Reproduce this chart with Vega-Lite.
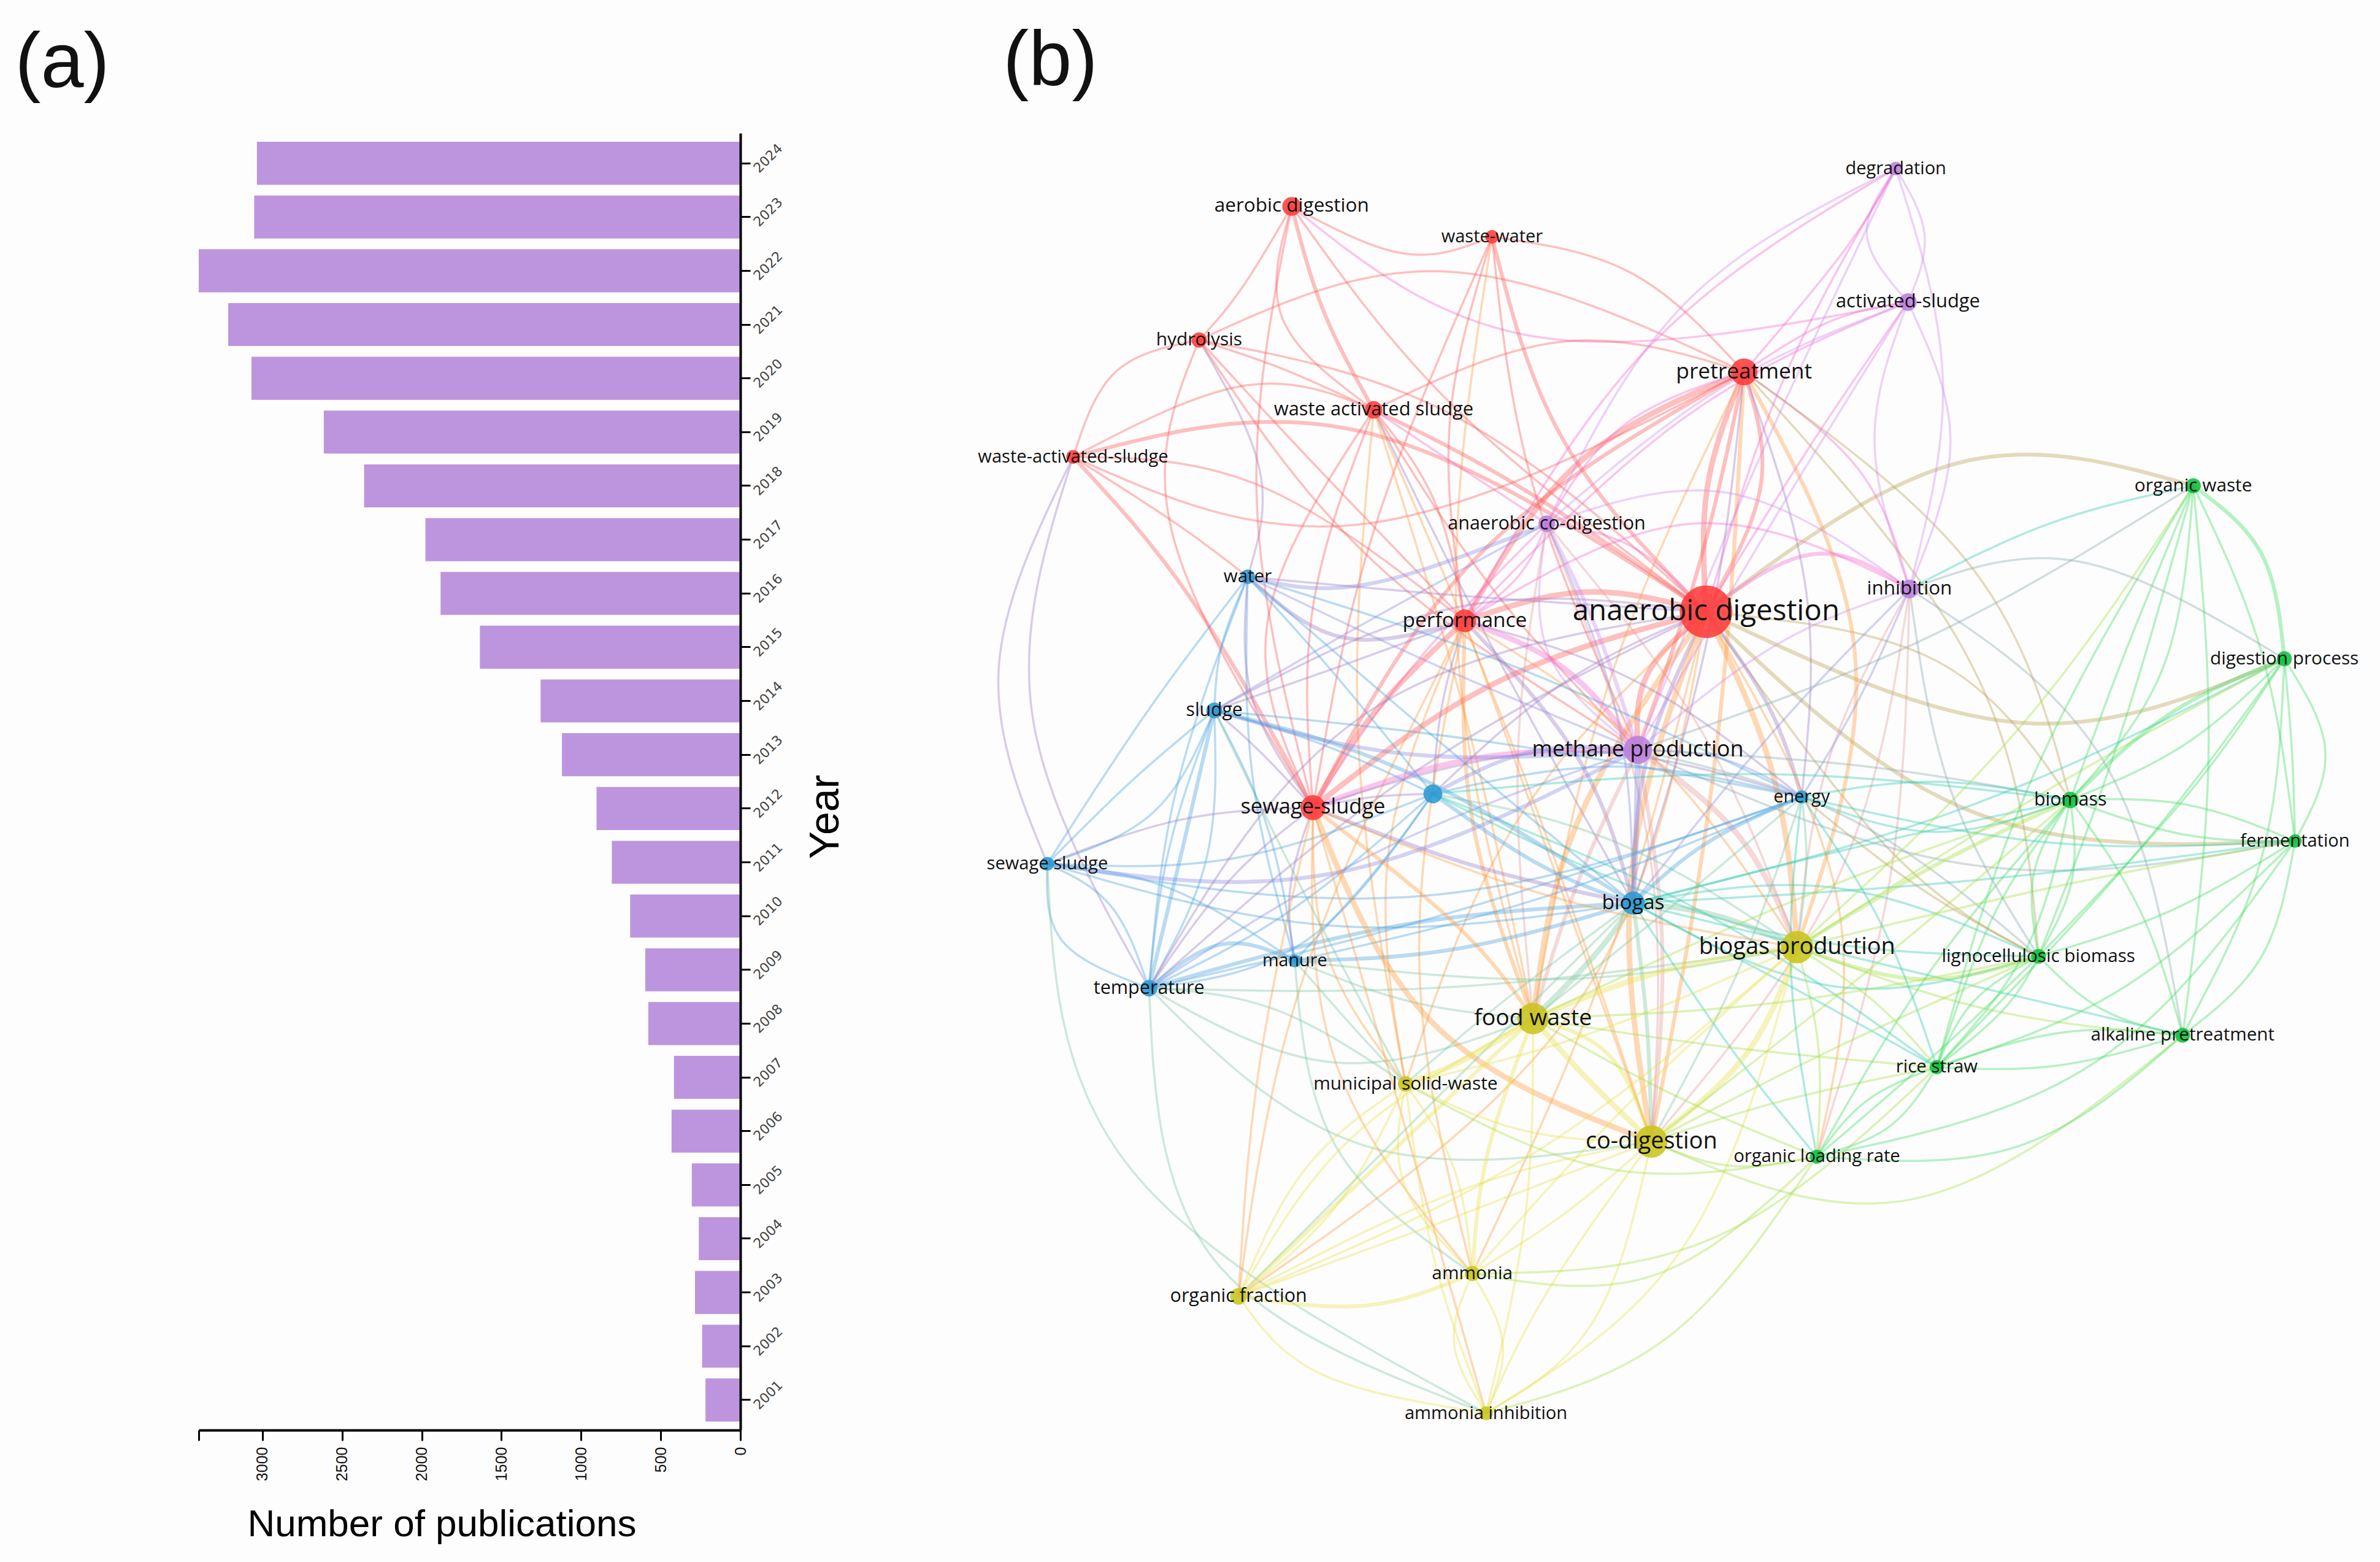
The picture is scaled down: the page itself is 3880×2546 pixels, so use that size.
{"$schema":"https://vega.github.io/schema/vega-lite/v6.json","width":3880,"height":2546,"padding":0,"autosize":{"type":"none"},"background":"#fdfdfd","config":{"view":{"stroke":null}},
"layer":[
{"data":{"values":[{"year":"2024","n":3035},{"year":"2023","n":3052},{"year":"2022","n":3400},{"year":"2021","n":3215},{"year":"2020","n":3069},{"year":"2019","n":2615},{"year":"2018","n":2362},{"year":"2017","n":1977},{"year":"2016","n":1882},{"year":"2015","n":1635},{"year":"2014","n":1254},{"year":"2013","n":1120},{"year":"2012","n":903},{"year":"2011","n":807},{"year":"2010","n":692},{"year":"2009","n":597},{"year":"2008","n":578},{"year":"2007","n":417},{"year":"2006","n":432},{"year":"2005","n":305},{"year":"2004","n":261},{"year":"2003","n":285},{"year":"2002","n":240},{"year":"2001","n":219}]},
"mark":{"type":"bar","color":"#bd95de"},
"encoding":{"x":{"field":"n","type":"quantitative","scale":{"domain":[0,3400],"range":[1207,324],"nice":false},"axis":{"orient":"bottom","offset":-215,"values":[0,500,1000,1500,2000,2500,3000,3400],"labelExpr":"datum.value==3400?'':datum.label","format":"d","grid":false,"domainColor":"#000","domainWidth":4,"tickColor":"#000","tickWidth":3,"tickSize":17,"labelAngle":-90,"labelFont":"Liberation Sans","labelFontSize":25,"labelColor":"#111","labelPadding":10,"title":"Number of publications","titleFont":"Liberation Sans","titleFontSize":62,"titleFontWeight":"normal","titleColor":"#000","titleX":720,"titleY":172,"titleAlign":"center","titleBaseline":"alphabetic","zindex":1}},
"y":{"field":"year","type":"ordinal","sort":"descending","scale":{"range":[217,2331],"paddingInner":0.2,"paddingOuter":0.16},"axis":{"orient":"right","offset":-2673,"grid":false,"domainColor":"#000","domainWidth":4,"tickColor":"#000","tickWidth":3,"tickSize":16,"labelAngle":-45,"labelAlign":"left","labelFont":"DejaVu Sans","labelFontSize":22,"labelColor":"#444","labelPadding":9,"labelOffset":12,"title":"Year","titleFont":"Liberation Sans","titleFontSize":68,"titleFontWeight":"normal","titleColor":"#000","titleAngle":-90,"titleX":139,"titleY":1331,"titleAlign":"center","titleBaseline":"middle","zindex":1}}}},
{"layer":[
{"data":{"values":[
{"id":"AEWW","g":"r","w":1,"xs":[851,925,983],"ys":[136,167,156]},
{"id":"AEHY","g":"r","w":1,"xs":[851,818,790],"ys":[136,190,224]},
{"id":"AEWS","g":"r","w":2,"xs":[851,872,905],"ys":[136,205,270]},
{"id":"AEWS2","g":"r","w":1,"xs":[851,845,905],"ys":[136,210,270]},
{"id":"AEAL","g":"rp","w":1,"xs":[851,1013,1257],"ys":[136,222,199]},
{"id":"AEAD","g":"r","w":1,"xs":[851,960,1124],"ys":[136,270,403]},
{"id":"AESS","g":"r","w":1,"xs":[851,828,865],"ys":[136,330,532]},
{"id":"WWPT","g":"r","w":1,"xs":[983,1075,1149],"ys":[156,180,245]},
{"id":"WWSS","g":"r","w":1,"xs":[983,905,865],"ys":[156,350,532]},
{"id":"WWPF","g":"r","w":1,"xs":[983,955,965],"ys":[156,280,409]},
{"id":"WWAD","g":"r","w":2,"xs":[983,1030,1124],"ys":[156,290,403]},
{"id":"WWMP","g":"r","w":1,"xs":[983,1010,1079],"ys":[156,320,494]},
{"id":"WWFW","g":"ry","w":1,"xs":[983,960,1010],"ys":[156,420,671]},
{"id":"HYPT","g":"r","w":1,"xs":[790,955,1149],"ys":[224,179,245]},
{"id":"HYWH","g":"r","w":1,"xs":[790,735,707],"ys":[224,245,301]},
{"id":"HYWS","g":"r","w":1,"xs":[790,845,905],"ys":[224,243,270]},
{"id":"HYAD","g":"r","w":1,"xs":[790,960,1124],"ys":[224,275,403]},
{"id":"HYPF","g":"r","w":1,"xs":[790,865,965],"ys":[224,305,409]},
{"id":"HYSS","g":"r","w":1,"xs":[790,772,865],"ys":[224,350,532]},
{"id":"HYWA","g":"rb","w":1,"xs":[790,830,822],"ys":[224,310,380]},
{"id":"HYMP","g":"r","w":1,"xs":[790,905,1079],"ys":[224,370,494]},
{"id":"WHWS","g":"r","w":1,"xs":[707,820,905],"ys":[301,254,270]},
{"id":"WHAD","g":"r","w":2,"xs":[707,900,1124],"ys":[301,285,403]},
{"id":"WHPF","g":"r","w":1,"xs":[707,830,965],"ys":[301,320,409]},
{"id":"WHPT","g":"r","w":1,"xs":[707,900,1149],"ys":[301,345,245]},
{"id":"WHSS","g":"r","w":2,"xs":[707,785,865],"ys":[301,395,532]},
{"id":"WHSW","g":"rb","w":1,"xs":[707,658,690],"ys":[301,440,569]},
{"id":"WHTE","g":"rb","w":1,"xs":[707,680,757],"ys":[301,470,651]},
{"id":"WSAD","g":"r","w":2,"xs":[905,1000,1124],"ys":[270,320,403]},
{"id":"WSPF","g":"r","w":1,"xs":[905,945,965],"ys":[270,330,409]},
{"id":"WSSS","g":"r","w":1,"xs":[905,865,865],"ys":[270,400,532]},
{"id":"WSSS2","g":"r","w":1,"xs":[905,835,865],"ys":[270,410,532]},
{"id":"WSPT","g":"r","w":1,"xs":[905,1030,1149],"ys":[270,225,245]},
{"id":"WSMP","g":"r","w":1,"xs":[905,985,1079],"ys":[270,390,494]},
{"id":"WSFW","g":"ry","w":1,"xs":[905,965,1010],"ys":[270,470,671]},
{"id":"WSAC","g":"rp","w":1,"xs":[905,965,1019],"ys":[270,310,345]},
{"id":"WSCD","g":"ry","w":1,"xs":[905,1000,1088],"ys":[270,500,752]},
{"id":"WSMS","g":"ry","w":1,"xs":[905,895,926],"ys":[270,490,714]},
{"id":"WSBG","g":"rb","w":1,"xs":[905,985,1076],"ys":[270,430,595]},
{"id":"ADPT","g":"r","w":3,"xs":[1124,1125,1149],"ys":[403,320,245]},
{"id":"ADPT2","g":"r","w":2,"xs":[1124,1160,1149],"ys":[403,320,245]},
{"id":"ADMP","g":"r","w":3,"xs":[1124,1085,1079],"ys":[403,445,494]},
{"id":"ADBP","g":"ry","w":3,"xs":[1124,1168,1184],"ys":[403,510,624]},
{"id":"ADBG","g":"rb","w":2,"xs":[1124,1085,1076],"ys":[403,500,595]},
{"id":"ADFW","g":"ry","w":3,"xs":[1124,1040,1010],"ys":[403,540,671]},
{"id":"ADCD","g":"ry","w":3,"xs":[1124,1075,1088],"ys":[403,575,752]},
{"id":"ADSS","g":"r","w":3,"xs":[1124,985,865],"ys":[403,450,532]},
{"id":"ADPF","g":"r","w":3,"xs":[1124,1045,965],"ys":[403,390,409]},
{"id":"ADOW","g":"rg","w":2,"xs":[1124,1290,1445],"ys":[403,305,320]},
{"id":"ADDP","g":"rg","w":2,"xs":[1124,1330,1505],"ys":[403,476,434]},
{"id":"ADFE","g":"rg","w":2,"xs":[1124,1300,1512],"ys":[403,535,554]},
{"id":"ADBM","g":"rg","w":1,"xs":[1124,1275,1364],"ys":[403,435,527]},
{"id":"ADIN","g":"rp","w":2,"xs":[1124,1195,1258],"ys":[403,365,388]},
{"id":"ADLB","g":"rg","w":1,"xs":[1124,1245,1343],"ys":[403,560,630]},
{"id":"ADEN","g":"rb","w":2,"xs":[1124,1165,1187],"ys":[403,465,525]},
{"id":"ADOL","g":"ry","w":1,"xs":[1124,1210,1197],"ys":[403,590,762]},
{"id":"ADMS","g":"ry","w":1,"xs":[1124,1000,926],"ys":[403,540,714]},
{"id":"ADOF","g":"ry","w":1,"xs":[1124,1040,816],"ys":[403,660,854]},
{"id":"ADTE","g":"rb","w":1,"xs":[1124,930,757],"ys":[403,510,651]},
{"id":"ADSL","g":"rb","w":1,"xs":[1124,960,800],"ys":[403,400,468]},
{"id":"ADAM","g":"ry","w":1,"xs":[1124,1060,970],"ys":[403,630,839]},
{"id":"PTIN","g":"rp","w":1,"xs":[1149,1225,1258],"ys":[245,310,388]},
{"id":"PTBM","g":"rg","w":1,"xs":[1149,1300,1364],"ys":[245,375,527]},
{"id":"PTBP","g":"ry","w":2,"xs":[1149,1222,1184],"ys":[245,430,624]},
{"id":"PTFW","g":"ry","w":1,"xs":[1149,1060,1010],"ys":[245,450,671]},
{"id":"PTCD","g":"ry","w":2,"xs":[1149,1130,1088],"ys":[245,500,752]},
{"id":"PTMP","g":"r","w":2,"xs":[1149,1120,1079],"ys":[245,370,494]},
{"id":"PTBG","g":"rb","w":1,"xs":[1149,1125,1076],"ys":[245,420,595]},
{"id":"PTEN","g":"rb","w":1,"xs":[1149,1190,1187],"ys":[245,390,525]},
{"id":"PTPF","g":"r","w":3,"xs":[1149,1040,965],"ys":[245,305,409]},
{"id":"PTSS","g":"r","w":2,"xs":[1149,975,865],"ys":[245,365,532]},
{"id":"PTAC","g":"rp","w":1,"xs":[1149,1070,1019],"ys":[245,280,345]},
{"id":"PTAL","g":"rp","w":1,"xs":[1149,1205,1257],"ys":[245,212,199]},
{"id":"PTDG","g":"rp","w":1,"xs":[1149,1215,1249],"ys":[245,165,111]},
{"id":"PTLB","g":"rg","w":1,"xs":[1149,1300,1343],"ys":[245,440,630]},
{"id":"DGAL","g":"p","w":1,"xs":[1249,1230,1257],"ys":[111,155,199]},
{"id":"DGAL2","g":"p","w":1,"xs":[1249,1268,1257],"ys":[111,155,199]},
{"id":"DGAC","g":"p","w":1,"xs":[1249,1110,1019],"ys":[111,200,345]},
{"id":"DGAD","g":"rp","w":1,"xs":[1249,1175,1124],"ys":[111,250,403]},
{"id":"DGMP","g":"p","w":1,"xs":[1249,1160,1079],"ys":[111,300,494]},
{"id":"DGIN","g":"p","w":1,"xs":[1249,1280,1258],"ys":[111,250,388]},
{"id":"DGPF","g":"rp","w":1,"xs":[1249,1085,965],"ys":[111,230,409]},
{"id":"ALIN","g":"p","w":1,"xs":[1257,1285,1258],"ys":[199,290,388]},
{"id":"ALIN2","g":"p","w":1,"xs":[1257,1235,1258],"ys":[199,290,388]},
{"id":"ALMP","g":"p","w":1,"xs":[1257,1170,1079],"ys":[199,340,494]},
{"id":"ALAD","g":"rp","w":1,"xs":[1257,1195,1124],"ys":[199,290,403]},
{"id":"ALAC","g":"p","w":1,"xs":[1257,1135,1019],"ys":[199,255,345]},
{"id":"ALPF","g":"rp","w":1,"xs":[1257,1110,965],"ys":[199,275,409]},
{"id":"ACAD","g":"rp","w":1,"xs":[1019,1075,1124],"ys":[345,360,403]},
{"id":"ACMP","g":"p","w":2,"xs":[1019,1052,1079],"ys":[345,415,494]},
{"id":"ACMP2","g":"p","w":1,"xs":[1019,1020,1079],"ys":[345,430,494]},
{"id":"ACPF","g":"rp","w":1,"xs":[1019,1000,965],"ys":[345,380,409]},
{"id":"ACIN","g":"p","w":1,"xs":[1019,1140,1258],"ys":[345,325,388]},
{"id":"ACWA","g":"pb","w":2,"xs":[1019,900,822],"ys":[345,385,380]},
{"id":"ACBG","g":"pb","w":1,"xs":[1019,1065,1076],"ys":[345,470,595]},
{"id":"ACFW","g":"py","w":1,"xs":[1019,1000,1010],"ys":[345,500,671]},
{"id":"ACBP","g":"py","w":1,"xs":[1019,1120,1184],"ys":[345,480,624]},
{"id":"ACCD","g":"py","w":1,"xs":[1019,1085,1088],"ys":[345,550,752]},
{"id":"ACSS","g":"rp","w":1,"xs":[1019,930,865],"ys":[345,440,532]},
{"id":"INMP","g":"p","w":1,"xs":[1258,1170,1079],"ys":[388,425,494]},
{"id":"INBP","g":"py","w":1,"xs":[1258,1205,1184],"ys":[388,500,624]},
{"id":"INBG","g":"pb","w":1,"xs":[1258,1170,1076],"ys":[388,480,595]},
{"id":"INEN","g":"pb","w":1,"xs":[1258,1225,1187],"ys":[388,460,525]},
{"id":"INPF","g":"rp","w":1,"xs":[1258,1115,965],"ys":[388,345,409]},
{"id":"INDP","g":"pg","w":1,"xs":[1258,1370,1505],"ys":[388,370,434]},
{"id":"INOL","g":"py","w":1,"xs":[1258,1245,1197],"ys":[388,580,762]},
{"id":"INAP","g":"pg","w":1,"xs":[1258,1385,1438],"ys":[388,500,682]},
{"id":"INLB","g":"pg","w":1,"xs":[1258,1285,1343],"ys":[388,520,630]},
{"id":"INCD","g":"py","w":1,"xs":[1258,1210,1088],"ys":[388,580,752]},
{"id":"INOW","g":"gb","w":1,"xs":[1258,1350,1445],"ys":[388,345,320]},
{"id":"PFMP","g":"rp","w":3,"xs":[965,1030,1079],"ys":[409,440,494]},
{"id":"PFSS","g":"r","w":3,"xs":[965,905,865],"ys":[409,470,532]},
{"id":"PFBG","g":"rb","w":2,"xs":[965,1040,1076],"ys":[409,500,595]},
{"id":"PFFW","g":"ry","w":2,"xs":[965,970,1010],"ys":[409,540,671]},
{"id":"PFCD","g":"ry","w":1,"xs":[965,1030,1088],"ys":[409,590,752]},
{"id":"PFBP","g":"ry","w":1,"xs":[965,1090,1184],"ys":[409,500,624]},
{"id":"PFWA","g":"rb","w":2,"xs":[965,885,822],"ys":[409,420,380]},
{"id":"PFUB","g":"rb","w":1,"xs":[965,950,944],"ys":[409,465,523]},
{"id":"PFSL","g":"rb","w":1,"xs":[965,880,800],"ys":[409,440,468]},
{"id":"PFOF","g":"ry","w":1,"xs":[965,860,816],"ys":[409,640,854]},
{"id":"PFMS","g":"ry","w":1,"xs":[965,915,926],"ys":[409,560,714]},
{"id":"PFAM","g":"ry","w":1,"xs":[965,935,970],"ys":[409,630,839]},
{"id":"PFEN","g":"rb","w":1,"xs":[965,1080,1187],"ys":[409,450,525]},
{"id":"MPBG","g":"pb","w":3,"xs":[1079,1078,1076],"ys":[494,545,595]},
{"id":"MPFW","g":"py","w":2,"xs":[1079,1040,1010],"ys":[494,580,671]},
{"id":"MPBP","g":"py","w":3,"xs":[1079,1145,1184],"ys":[494,550,624]},
{"id":"MPCD","g":"py","w":2,"xs":[1079,1095,1088],"ys":[494,620,752]},
{"id":"MPSS","g":"rp","w":3,"xs":[1079,970,865],"ys":[494,500,532]},
{"id":"MPUB","g":"pb","w":2,"xs":[1079,1010,944],"ys":[494,495,523]},
{"id":"MPSL","g":"pb","w":2,"xs":[1079,930,800],"ys":[494,497,468]},
{"id":"MPEN","g":"pb","w":1,"xs":[1079,1135,1187],"ys":[494,500,525]},
{"id":"MPBM","g":"pg","w":1,"xs":[1079,1230,1364],"ys":[494,505,527]},
{"id":"MPOW","g":"pg","w":1,"xs":[1079,1270,1445],"ys":[494,420,320]},
{"id":"MPWA","g":"pb","w":1,"xs":[1079,950,822],"ys":[494,440,380]},
{"id":"MPTE","g":"pb","w":1,"xs":[1079,910,757],"ys":[494,560,651]},
{"id":"MPLB","g":"pg","w":1,"xs":[1079,1220,1343],"ys":[494,540,630]},
{"id":"MPFE","g":"pg","w":1,"xs":[1079,1300,1512],"ys":[494,570,554]},
{"id":"UBBG","g":"b","w":2,"xs":[944,1015,1076],"ys":[523,570,595]},
{"id":"UBSL","g":"b","w":1,"xs":[944,870,800],"ys":[523,490,468]},
{"id":"UBWA","g":"b","w":1,"xs":[944,880,822],"ys":[523,445,380]},
{"id":"UBSS","g":"rb","w":1,"xs":[944,905,865],"ys":[523,525,532]},
{"id":"UBTE","g":"b","w":1,"xs":[944,850,757],"ys":[523,600,651]},
{"id":"UBTE2","g":"b","w":1,"xs":[944,860,757],"ys":[523,620,651]},
{"id":"UBMA","g":"b","w":1,"xs":[944,905,853],"ys":[523,575,633]},
{"id":"UBSW","g":"b","w":1,"xs":[944,815,690],"ys":[523,565,569]},
{"id":"UBEN","g":"b","w":1,"xs":[944,1065,1187],"ys":[523,505,525]},
{"id":"UBBP","g":"yb","w":1,"xs":[944,1065,1184],"ys":[523,555,624]},
{"id":"UBAD","g":"rb","w":1,"xs":[944,1030,1124],"ys":[523,450,403]},
{"id":"UBLB","g":"gb","w":1,"xs":[944,1150,1343],"ys":[523,610,630]},
{"id":"UBBM","g":"gb","w":1,"xs":[944,1160,1364],"ys":[523,510,527]},
{"id":"UBRS","g":"gb","w":1,"xs":[944,1120,1276],"ys":[523,600,703]},
{"id":"SLSS","g":"rb","w":1,"xs":[800,830,865],"ys":[468,495,532]},
{"id":"SLSW","g":"b","w":1,"xs":[800,745,690],"ys":[468,515,569]},
{"id":"SLTE","g":"b","w":1,"xs":[800,770,757],"ys":[468,560,651]},
{"id":"SLTE2","g":"b","w":1,"xs":[800,795,757],"ys":[468,565,651]},
{"id":"SLMA","g":"b","w":1,"xs":[800,835,853],"ys":[468,545,633]},
{"id":"SLBG","g":"b","w":2,"xs":[800,930,1076],"ys":[468,510,595]},
{"id":"SLEN","g":"b","w":1,"xs":[800,990,1187],"ys":[468,490,525]},
{"id":"SLWA","g":"b","w":1,"xs":[800,805,822],"ys":[468,425,380]},
{"id":"SLAC","g":"pb","w":1,"xs":[800,900,1019],"ys":[468,410,345]},
{"id":"SLMS","g":"yb","w":1,"xs":[800,860,926],"ys":[468,590,714]},
{"id":"SWSS","g":"rb","w":1,"xs":[690,778,865],"ys":[569,540,532]},
{"id":"SWTE","g":"b","w":1,"xs":[690,700,757],"ys":[569,620,651]},
{"id":"SWTE2","g":"b","w":1,"xs":[690,732,757],"ys":[569,597,651]},
{"id":"SWMA","g":"b","w":1,"xs":[690,770,853],"ys":[569,585,633]},
{"id":"SWBG","g":"b","w":1,"xs":[690,880,1076],"ys":[569,610,595]},
{"id":"SWMP","g":"pb","w":2,"xs":[690,880,1079],"ys":[569,575,494]},
{"id":"SWEN","g":"b","w":1,"xs":[690,940,1187],"ys":[569,590,525]},
{"id":"SWSL2","g":"b","w":1,"xs":[690,760,800],"ys":[569,535,468]},
{"id":"SWAI","g":"yb","w":1,"xs":[690,745,979],"ys":[569,770,931]},
{"id":"WAWH","g":"r","w":1,"xs":[822,775,707],"ys":[380,345,301]},
{"id":"TESS","g":"rb","w":1,"xs":[757,810,865],"ys":[651,580,532]},
{"id":"TESS2","g":"b","w":2,"xs":[757,780,800],"ys":[651,555,468]},
{"id":"TEMA","g":"b","w":2,"xs":[757,805,853],"ys":[651,622,633]},
{"id":"TEBG","g":"b","w":2,"xs":[757,920,1076],"ys":[651,610,595]},
{"id":"TEAD","g":"rb","w":1,"xs":[757,900,1124],"ys":[651,470,403]},
{"id":"TEEN","g":"b","w":1,"xs":[757,960,1187],"ys":[651,600,525]},
{"id":"TEAI","g":"yb","w":1,"xs":[757,800,979],"ys":[651,830,931]},
{"id":"TECD","g":"yb","w":1,"xs":[757,900,1088],"ys":[651,755,752]},
{"id":"TEFW","g":"yb","w":1,"xs":[757,880,1010],"ys":[651,700,671]},
{"id":"TEMS","g":"yb","w":1,"xs":[757,840,926],"ys":[651,665,714]},
{"id":"TEBP","g":"yb","w":1,"xs":[757,960,1184],"ys":[651,650,624]},
{"id":"MABG","g":"b","w":2,"xs":[853,960,1076],"ys":[633,625,595]},
{"id":"MASS","g":"rb","w":1,"xs":[853,850,865],"ys":[633,585,532]},
{"id":"MAMS","g":"yb","w":1,"xs":[853,890,926],"ys":[633,675,714]},
{"id":"MAAM","g":"yb","w":1,"xs":[853,880,970],"ys":[633,755,839]},
{"id":"MAFW","g":"yb","w":1,"xs":[853,930,1010],"ys":[633,660,671]},
{"id":"MABP","g":"yb","w":1,"xs":[853,1030,1184],"ys":[633,645,624]},
{"id":"MAEN","g":"b","w":1,"xs":[853,1020,1187],"ys":[633,590,525]},
{"id":"MAWA","g":"b","w":1,"xs":[853,825,822],"ys":[633,510,380]},
{"id":"WATE","g":"b","w":1,"xs":[822,775,757],"ys":[380,520,651]},
{"id":"WASW","g":"b","w":1,"xs":[822,755,690],"ys":[380,470,569]},
{"id":"WASS","g":"rb","w":1,"xs":[822,825,865],"ys":[380,460,532]},
{"id":"WABG","g":"b","w":1,"xs":[822,950,1076],"ys":[380,490,595]},
{"id":"WAEN","g":"b","w":1,"xs":[822,1000,1187],"ys":[380,440,525]},
{"id":"WAAD","g":"rb","w":1,"xs":[822,970,1124],"ys":[380,393,403]},
{"id":"SSBG","g":"rb","w":2,"xs":[865,970,1076],"ys":[532,570,595]},
{"id":"SSFW","g":"ry","w":2,"xs":[865,960,1010],"ys":[532,610,671]},
{"id":"SSCD","g":"ry","w":3,"xs":[865,945,1088],"ys":[532,675,752]},
{"id":"SSBP","g":"ry","w":1,"xs":[865,1020,1184],"ys":[532,590,624]},
{"id":"SSMS","g":"ry","w":1,"xs":[865,875,926],"ys":[532,630,714]},
{"id":"SSOF","g":"ry","w":1,"xs":[865,830,816],"ys":[532,700,854]},
{"id":"SSAM","g":"ry","w":1,"xs":[865,880,970],"ys":[532,700,839]},
{"id":"SSAI","g":"ry","w":1,"xs":[865,925,979],"ys":[532,740,931]},
{"id":"SSEN","g":"rb","w":1,"xs":[865,1030,1187],"ys":[532,495,525]},
{"id":"BGFW","g":"yb","w":3,"xs":[1076,1050,1010],"ys":[595,630,671]},
{"id":"BGBP","g":"yb","w":3,"xs":[1076,1130,1184],"ys":[595,603,624]},
{"id":"BGCD","g":"yb","w":2,"xs":[1076,1085,1088],"ys":[595,675,752]},
{"id":"BGEN","g":"b","w":2,"xs":[1076,1125,1187],"ys":[595,555,525]},
{"id":"BGBM","g":"gb","w":1,"xs":[1076,1215,1364],"ys":[595,560,527]},
{"id":"BGLB","g":"gb","w":1,"xs":[1076,1210,1343],"ys":[595,585,630]},
{"id":"BGLB2","g":"gb","w":1,"xs":[1076,1210,1343],"ys":[595,650,630]},
{"id":"BGRS","g":"gb","w":1,"xs":[1076,1180,1276],"ys":[595,650,703]},
{"id":"BGOL","g":"gb","w":1,"xs":[1076,1140,1197],"ys":[595,690,762]},
{"id":"BGFE","g":"gb","w":1,"xs":[1076,1300,1512],"ys":[595,580,554]},
{"id":"BGMS","g":"yb","w":1,"xs":[1076,990,926],"ys":[595,660,714]},
{"id":"BGOF","g":"yb","w":1,"xs":[1076,950,816],"ys":[595,720,854]},
{"id":"BGAP","g":"gb","w":1,"xs":[1076,1260,1438],"ys":[595,640,682]},
{"id":"BGDP","g":"gb","w":1,"xs":[1076,1300,1505],"ys":[595,530,434]},
{"id":"BPFW","g":"y","w":3,"xs":[1184,1095,1010],"ys":[624,640,671]},
{"id":"BPCD","g":"y","w":3,"xs":[1184,1150,1088],"ys":[624,695,752]},
{"id":"BPLB","g":"yg","w":2,"xs":[1184,1265,1343],"ys":[624,645,630]},
{"id":"BPRS","g":"yg","w":1,"xs":[1184,1235,1276],"ys":[624,660,703]},
{"id":"BPOL","g":"yg","w":1,"xs":[1184,1198,1197],"ys":[624,690,762]},
{"id":"BPBM","g":"yg","w":2,"xs":[1184,1275,1364],"ys":[624,570,527]},
{"id":"BPAP","g":"yg","w":1,"xs":[1184,1310,1438],"ys":[624,665,682]},
{"id":"BPFE","g":"yg","w":1,"xs":[1184,1350,1512],"ys":[624,585,554]},
{"id":"BPDP","g":"yg","w":1,"xs":[1184,1350,1505],"ys":[624,520,434]},
{"id":"BPMS","g":"y","w":1,"xs":[1184,1050,926],"ys":[624,680,714]},
{"id":"BPOF","g":"y","w":1,"xs":[1184,1010,816],"ys":[624,760,854]},
{"id":"BPEN","g":"yb","w":1,"xs":[1184,1190,1187],"ys":[624,570,525]},
{"id":"BPAM","g":"y","w":1,"xs":[1184,1070,970],"ys":[624,730,839]},
{"id":"BPOW","g":"yg","w":1,"xs":[1184,1330,1445],"ys":[624,480,320]},
{"id":"BPAI","g":"y","w":1,"xs":[1184,1110,979],"ys":[624,820,931]},
{"id":"CDFW","g":"y","w":3,"xs":[1088,1045,1010],"ys":[752,710,671]},
{"id":"CDFW2","g":"y","w":2,"xs":[1088,1060,1010],"ys":[752,695,671]},
{"id":"CDMS","g":"y","w":1,"xs":[1088,1005,926],"ys":[752,745,714]},
{"id":"CDOF","g":"y","w":1,"xs":[1088,950,816],"ys":[752,805,854]},
{"id":"CDAM","g":"y","w":1,"xs":[1088,1030,970],"ys":[752,800,839]},
{"id":"CDAI","g":"y","w":1,"xs":[1088,1020,979],"ys":[752,850,931]},
{"id":"CDAI2","g":"y","w":1,"xs":[1088,1050,979],"ys":[752,870,931]},
{"id":"CDOL","g":"yg","w":1,"xs":[1088,1140,1197],"ys":[752,768,762]},
{"id":"CDRS","g":"yg","w":1,"xs":[1088,1175,1276],"ys":[752,725,703]},
{"id":"CDLB","g":"yg","w":1,"xs":[1088,1210,1343],"ys":[752,690,630]},
{"id":"CDBM","g":"yg","w":1,"xs":[1088,1230,1364],"ys":[752,640,527]},
{"id":"CDAP","g":"yg","w":1,"xs":[1088,1260,1438],"ys":[752,790,682]},
{"id":"CDEN","g":"yb","w":1,"xs":[1088,1145,1187],"ys":[752,640,525]},
{"id":"FWMS","g":"y","w":3,"xs":[1010,965,926],"ys":[671,698,714]},
{"id":"FWOF","g":"y","w":2,"xs":[1010,905,816],"ys":[671,770,854]},
{"id":"FWOF2","g":"y","w":1,"xs":[1010,890,816],"ys":[671,750,854]},
{"id":"FWAM","g":"y","w":2,"xs":[1010,980,970],"ys":[671,760,839]},
{"id":"FWAI","g":"y","w":1,"xs":[1010,1005,979],"ys":[671,800,931]},
{"id":"FWEN","g":"yb","w":1,"xs":[1010,1110,1187],"ys":[671,590,525]},
{"id":"FWLB","g":"yg","w":1,"xs":[1010,1175,1343],"ys":[671,660,630]},
{"id":"FWRS","g":"yg","w":1,"xs":[1010,1140,1276],"ys":[671,690,703]},
{"id":"FWBM","g":"yg","w":1,"xs":[1010,1190,1364],"ys":[671,590,527]},
{"id":"FWOL","g":"yg","w":1,"xs":[1010,1100,1197],"ys":[671,720,762]},
{"id":"MSOF","g":"y","w":1,"xs":[926,860,816],"ys":[714,770,854]},
{"id":"MSOF2","g":"y","w":1,"xs":[926,880,816],"ys":[714,795,854]},
{"id":"MSAM","g":"y","w":1,"xs":[926,925,970],"ys":[714,780,839]},
{"id":"MSAM2","g":"y","w":1,"xs":[926,958,970],"ys":[714,770,839]},
{"id":"MSAI","g":"y","w":1,"xs":[926,945,979],"ys":[714,830,931]},
{"id":"MSOL","g":"yg","w":1,"xs":[926,1060,1197],"ys":[714,770,762]},
{"id":"OFAM","g":"y","w":2,"xs":[816,900,970],"ys":[854,860,839]},
{"id":"OFAI","g":"y","w":1,"xs":[816,870,979],"ys":[854,905,931]},
{"id":"OFCD2","g":"y","w":1,"xs":[816,960,1088],"ys":[854,785,752]},
{"id":"AMAI","g":"y","w":1,"xs":[970,958,979],"ys":[839,885,931]},
{"id":"AMAI2","g":"y","w":1,"xs":[970,990,979],"ys":[839,885,931]},
{"id":"AMOL","g":"yg","w":1,"xs":[970,1090,1197],"ys":[839,840,762]},
{"id":"AMRS","g":"yg","w":1,"xs":[970,1130,1276],"ys":[839,815,703]},
{"id":"AIOL","g":"yg","w":1,"xs":[979,1100,1197],"ys":[931,880,762]},
{"id":"OWDP","g":"g","w":2,"xs":[1445,1490,1505],"ys":[320,365,434]},
{"id":"OWBM","g":"g","w":1,"xs":[1445,1400,1364],"ys":[320,430,527]},
{"id":"OWBM2","g":"g","w":1,"xs":[1445,1425,1364],"ys":[320,440,527]},
{"id":"OWFE","g":"g","w":1,"xs":[1445,1490,1512],"ys":[320,430,554]},
{"id":"OWLB","g":"g","w":1,"xs":[1445,1395,1343],"ys":[320,490,630]},
{"id":"OWRS","g":"g","w":1,"xs":[1445,1340,1276],"ys":[320,510,703]},
{"id":"OWAP","g":"g","w":1,"xs":[1445,1455,1438],"ys":[320,500,682]},
{"id":"DPFE","g":"g","w":1,"xs":[1505,1532,1512],"ys":[434,495,554]},
{"id":"DPFE2","g":"g","w":1,"xs":[1505,1510,1512],"ys":[434,495,554]},
{"id":"DPBM","g":"g","w":2,"xs":[1505,1430,1364],"ys":[434,470,527]},
{"id":"DPBM2","g":"g","w":1,"xs":[1505,1440,1364],"ys":[434,490,527]},
{"id":"DPAP","g":"g","w":1,"xs":[1505,1490,1438],"ys":[434,565,682]},
{"id":"DPLB","g":"g","w":1,"xs":[1505,1440,1343],"ys":[434,525,630]},
{"id":"DPRS","g":"g","w":1,"xs":[1505,1405,1276],"ys":[434,565,703]},
{"id":"BMFE","g":"g","w":1,"xs":[1364,1440,1512],"ys":[527,530,554]},
{"id":"BMFE2","g":"g","w":1,"xs":[1364,1440,1512],"ys":[527,550,554]},
{"id":"BMLB","g":"g","w":1,"xs":[1364,1365,1343],"ys":[527,580,630]},
{"id":"BMLB2","g":"g","w":1,"xs":[1364,1340,1343],"ys":[527,575,630]},
{"id":"BMAP","g":"g","w":1,"xs":[1364,1410,1438],"ys":[527,600,682]},
{"id":"BMRS","g":"g","w":1,"xs":[1364,1315,1276],"ys":[527,600,703]},
{"id":"BMRS2","g":"g","w":1,"xs":[1364,1335,1276],"ys":[527,625,703]},
{"id":"BMOL","g":"g","w":1,"xs":[1364,1275,1197],"ys":[527,635,762]},
{"id":"BMEN","g":"gb","w":1,"xs":[1364,1275,1187],"ys":[527,515,525]},
{"id":"BMEN2","g":"gb","w":1,"xs":[1364,1275,1187],"ys":[527,548,525]},
{"id":"FELB","g":"g","w":1,"xs":[1512,1430,1343],"ys":[554,600,630]},
{"id":"FEAP","g":"g","w":1,"xs":[1512,1490,1438],"ys":[554,630,682]},
{"id":"FERS","g":"g","w":1,"xs":[1512,1400,1276],"ys":[554,650,703]},
{"id":"FEOL","g":"g","w":1,"xs":[1512,1380,1197],"ys":[554,700,762]},
{"id":"FEEN","g":"gb","w":1,"xs":[1512,1350,1187],"ys":[554,555,525]},
{"id":"LBAP","g":"g","w":1,"xs":[1343,1385,1438],"ys":[630,665,682]},
{"id":"LBRS","g":"g","w":1,"xs":[1343,1320,1276],"ys":[630,665,703]},
{"id":"LBRS2","g":"g","w":1,"xs":[1343,1300,1276],"ys":[630,660,703]},
{"id":"LBOL","g":"g","w":1,"xs":[1343,1280,1197],"ys":[630,690,762]},
{"id":"LBEN","g":"rg","w":1,"xs":[1343,1265,1187],"ys":[630,585,525]},
{"id":"APRS","g":"g","w":1,"xs":[1438,1360,1276],"ys":[682,680,703]},
{"id":"APRS2","g":"g","w":1,"xs":[1438,1355,1276],"ys":[682,702,703]},
{"id":"APOL","g":"g","w":1,"xs":[1438,1330,1197],"ys":[682,755,762]},
{"id":"RSOL","g":"g","w":1,"xs":[1276,1230,1197],"ys":[703,725,762]},
{"id":"RSOL2","g":"g","w":1,"xs":[1276,1245,1197],"ys":[703,742,762]},
{"id":"ENOL","g":"gb","w":1,"xs":[1187,1180,1197],"ys":[525,640,762]},
{"id":"ENRS","g":"gb","w":1,"xs":[1187,1240,1276],"ys":[525,610,703]}
]},"transform":[{"flatten":["xs","ys"]}],
"mark":{"type":"line","interpolate":"natural","strokeOpacity":0.38,"strokeCap":"round"},
"encoding":{"x":{"field":"xs","type":"quantitative","scale":{"domain":[0,1568],"range":[0,3880],"nice":false,"zero":false},"axis":null},"y":{"field":"ys","type":"quantitative","scale":{"domain":[0,1029],"range":[0,2546],"nice":false,"zero":false},"axis":null},"detail":{"field":"id"},"order":{"value":null},
"stroke":{"field":"g","type":"nominal","scale":{"domain":["r","y","g","b","p","ry","rp","rb","rg","yg","yb","gb","pb","pg","py"],"range":["#ff5a5a","#e8e24a","#3fdc62","#4aa3e0","#d08cf0","#ff9c3c","#f46ad0","#9a7cc4","#b8a050","#a4e040","#7cc8a0","#2ccab0","#8a8ce4","#8aa8b0","#e89c9c"]},"legend":null},
"strokeWidth":{"field":"w","type":"quantitative","scale":{"domain":[1,3],"range":[3.5,9]},"legend":null}}},
{"data":{"name":"nodes","values":[
{"label":"anaerobic digestion","x":1124,"y":403,"r":19.6,"c":"red"},
{"label":"biogas production","x":1184,"y":624,"r":12,"c":"yellow"},
{"label":"food waste","x":1010,"y":671,"r":11.6,"c":"yellow"},
{"label":"co-digestion","x":1088,"y":752,"r":12,"c":"yellow"},
{"label":"methane production","x":1079,"y":494,"r":10.5,"c":"purple"},
{"label":"pretreatment","x":1149,"y":245,"r":10,"c":"red"},
{"label":"performance","x":965,"y":409,"r":8.5,"c":"red"},
{"label":"sewage-sludge","x":865,"y":532,"r":9.3,"c":"red"},
{"label":"biogas","x":1076,"y":595,"r":8.6,"c":"blue"},
{"label":"waste activated sludge","x":905,"y":270,"r":6.5,"c":"red"},
{"label":"aerobic digestion","x":851,"y":136,"r":7,"c":"red"},
{"label":"waste-water","x":983,"y":156,"r":5,"c":"red"},
{"label":"hydrolysis","x":790,"y":224,"r":5.7,"c":"red"},
{"label":"waste-activated-sludge","x":707,"y":301,"r":5.1,"c":"red"},
{"label":"water","x":822,"y":380,"r":5.4,"c":"blue"},
{"label":"anaerobic co-digestion","x":1019,"y":345,"r":6.2,"c":"purple"},
{"label":"degradation","x":1249,"y":111,"r":5,"c":"purple"},
{"label":"activated-sludge","x":1257,"y":199,"r":6.5,"c":"purple"},
{"label":"inhibition","x":1258,"y":388,"r":6.9,"c":"purple"},
{"label":"organic waste","x":1445,"y":320,"r":5.6,"c":"green"},
{"label":"digestion process","x":1505,"y":434,"r":5.6,"c":"green"},
{"label":"biomass","x":1364,"y":527,"r":6.1,"c":"green"},
{"label":"fermentation","x":1512,"y":554,"r":5,"c":"green"},
{"label":"lignocellulosic biomass","x":1343,"y":630,"r":5.5,"c":"green"},
{"label":"alkaline pretreatment","x":1438,"y":682,"r":5.5,"c":"green"},
{"label":"rice straw","x":1276,"y":703,"r":5.3,"c":"green"},
{"label":"organic loading rate","x":1197,"y":762,"r":5.2,"c":"green"},
{"label":"energy","x":1187,"y":525,"r":4.9,"c":"blue"},
{"label":"sludge","x":800,"y":468,"r":5.9,"c":"blue"},
{"label":"","x":944,"y":523,"r":7,"c":"blue"},
{"label":"sewage sludge","x":690,"y":569,"r":5.1,"c":"blue"},
{"label":"temperature","x":757,"y":651,"r":6.2,"c":"blue"},
{"label":"manure","x":853,"y":633,"r":4.8,"c":"blue"},
{"label":"municipal solid-waste","x":926,"y":714,"r":5.7,"c":"yellow"},
{"label":"organic fraction","x":816,"y":854,"r":6.2,"c":"yellow"},
{"label":"ammonia","x":970,"y":839,"r":5.6,"c":"yellow"},
{"label":"ammonia inhibition","x":979,"y":931,"r":5.1,"c":"yellow"}
]},
"mark":{"type":"point","filled":true,"opacity":0.88},
"encoding":{"x":{"field":"x","type":"quantitative"},"y":{"field":"y","type":"quantitative"},
"size":{"field":"r","type":"quantitative","scale":{"type":"pow","exponent":2,"domain":[0,20],"range":[0,7697]},"legend":null},
"fill":{"field":"c","type":"nominal","scale":{"domain":["red","yellow","green","blue","purple"],"range":["#ff3a3a","#c9c41e","#0cc03c","#2a98d4","#b97edc"]},"legend":null}}},
{"data":{"name":"nodes"},
"mark":{"type":"text","font":"Open Sans","color":"#111","align":"center","baseline":"middle"},
"encoding":{"x":{"field":"x","type":"quantitative"},"y":{"field":"y","type":"quantitative"},"text":{"field":"label"},
"size":{"field":"r","type":"quantitative","scale":{"domain":[5,20],"range":[29,48],"zero":false},"legend":null}}},
{"data":{"values":[{"t":"(a)","x":41,"y":42},{"t":"(b)","x":692,"y":41}]},
"mark":{"type":"text","font":"Liberation Sans","fontSize":126,"color":"#111","align":"center","baseline":"middle"},
"encoding":{"x":{"field":"x","type":"quantitative"},"y":{"field":"y","type":"quantitative"},"text":{"field":"t"}}}
],"resolve":{"scale":{"size":"independent"}}}
],
"resolve":{"scale":{"x":"independent","y":"independent"},"axis":{"x":"independent","y":"independent"}}}
